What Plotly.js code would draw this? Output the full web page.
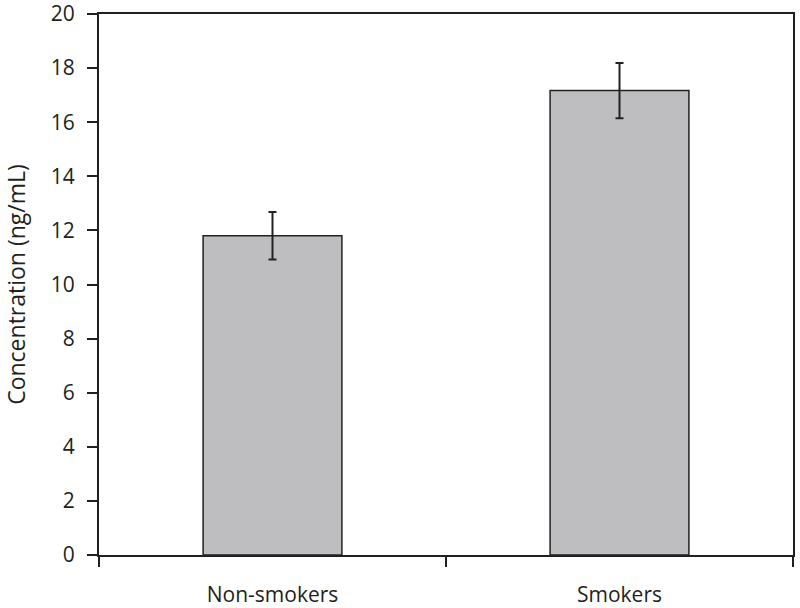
<!DOCTYPE html>
<html>
<head>
<meta charset="utf-8">
<script src="https://cdn.plot.ly/plotly-3.0.1.min.js"></script>
<style>
  body { margin: 0; background: #fff; }
  #chart { width: 800px; height: 608px; }
</style>
</head>
<body>
<div id="chart"></div>
<script>
var groups = ['Non-smokers', 'Smokers'];
var concentration = [11.8, 17.17];
var errorSize = [0.88, 1.02];

var barTrace = {
  x: groups,
  y: concentration,
  type: 'bar',
  width: 0.4,
  marker: {
    color: 'rgb(190, 190, 192)',
    line: { color: '#222222', width: 1.5 }
  },
  error_y: {
    type: 'data',
    array: errorSize,
    visible: true,
    color: '#222222',
    thickness: 2,
    width: 4
  },
  hoverinfo: 'none'
};

var layout = {
  width: 800,
  height: 608,
  margin: { l: 99, r: 7, t: 14, b: 53 },
  paper_bgcolor: '#ffffff',
  plot_bgcolor: '#ffffff',
  showlegend: false,
  font: { family: 'Open Sans, sans-serif', size: 21, color: '#231f20' },
  xaxis: {
    type: 'category',
    range: [-0.5, 1.5],
    tickson: 'boundaries',
    ticks: 'outside',
    ticklen: 10,
    tickwidth: 2,
    tickcolor: '#231f20',
    ticklabelstandoff: 20,
    ticklabeloverflow: 'allow',
    showline: true,
    linecolor: '#231f20',
    linewidth: 2,
    mirror: true,
    showgrid: false,
    zeroline: false,
    automargin: false,
    tickfont: { size: 21 }
  },
  yaxis: {
    range: [0, 20],
    dtick: 2,
    ticks: 'outside',
    ticklen: 10,
    tickwidth: 2,
    tickcolor: '#231f20',
    ticklabelstandoff: 8,
    ticklabeloverflow: 'allow',
    showline: true,
    linecolor: '#231f20',
    linewidth: 2,
    mirror: true,
    showgrid: false,
    zeroline: false,
    automargin: false,
    tickfont: { size: 21 },
    title: { text: 'Concentration (ng/mL)', font: { size: 23 }, standoff: 21 }
  }
};

Plotly.newPlot('chart', [barTrace], layout, { displayModeBar: false, staticPlot: true });
</script>
</body>
</html>
